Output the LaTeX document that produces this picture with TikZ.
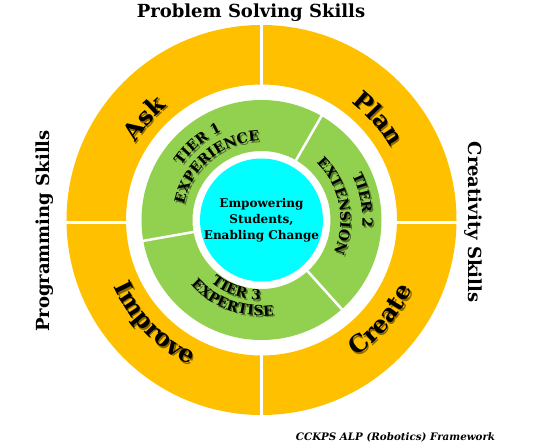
\documentclass[tikz,border=0pt]{standalone}
\usepackage{fontspec}
\setmainfont{DejaVu Serif}
\usetikzlibrary{decorations.text}
\definecolor{skillorange}{HTML}{FFC000}
\definecolor{tiergreen}{HTML}{92D050}
\definecolor{corecyan}{HTML}{00FFFF}
\newcommand{\quadfont}{\bfseries\fontsize{24}{28}\selectfont}
\newcommand{\tierfont}{\bfseries\fontsize{14}{17}\selectfont}
% curved text with a soft shadow: start angle, end angle, radius, font, text
\newcommand{\curvlbl}[5]{%
  \begin{scope}[opacity=.45, shift={(1.5,-1.8)}]
    \path[decorate, decoration={text along path, text align=center, text={|#4|#5}}] (#1:#3) arc[start angle=#1, end angle=#2, radius=#3];
  \end{scope}
  \path[decorate, decoration={text along path, text align=center, text={|#4|#5}}] (#1:#3) arc[start angle=#1, end angle=#2, radius=#3];}

\begin{document}
\begin{tikzpicture}[x=1pt, y=1pt, skill/.style={font=\bfseries\fontsize{18}{21}\selectfont, inner sep=0pt}]
    \useasboundingbox (-261.5,-227) rectangle (278.5,220);
    \fill[skillorange, even odd rule] (0,0) circle[radius=195] circle[radius=135.5];
    \draw[white, line width=3] (0,-197) -- (0,197) (-197,-2) -- (197,-2);% quadrants
    \fill[tiergreen, even odd rule] (0,0) circle[radius=120] circle[radius=69];
    \foreach \a in {60,190,-48} \draw[white, line width=2.5] (\a:68) -- (\a:121);% tiers
    \node[circle, fill=corecyan, minimum size=122pt, inner sep=0pt, align=center, font=\bfseries\fontsize{12}{16}\selectfont] (core) at (0,0) {Empowering\\Students,\\Enabling Change};
    \curvlbl{179}{99}{148}{\quadfont}{Ask} \curvlbl{81}{1}{148}{\quadfont}{Plan}
    \curvlbl{184}{264}{162}{\quadfont}{Improve} \curvlbl{-80}{0}{166}{\quadfont}{Create}
    \curvlbl{180}{80}{97}{\tierfont}{TIER 1} \curvlbl{180}{80}{79}{\tierfont}{EXPERIENCE}
    \curvlbl{61}{-39}{101}{\tierfont}{TIER 2} \curvlbl{61}{-39}{79}{\tierfont}{EXTENSION}
    \curvlbl{200}{300}{80}{\tierfont}{TIER 3} \curvlbl{200}{300}{96}{\tierfont}{EXPERTISE}
    \node[skill] (title) at (-10.5,207) {Problem Solving Skills};
    \node[skill, rotate=90] (prog) at (-216.5,-11) {Programming Skills};
    \node[skill, rotate=-90] (crea) at (211.5,-2) {Creativity Skills};
    \node[font=\bfseries\itshape\fontsize{10.3}{12}\selectfont, inner sep=0pt] (foot) at (134,-217) {CCKPS ALP (Robotics) Framework};
\end{tikzpicture}
\end{document}
